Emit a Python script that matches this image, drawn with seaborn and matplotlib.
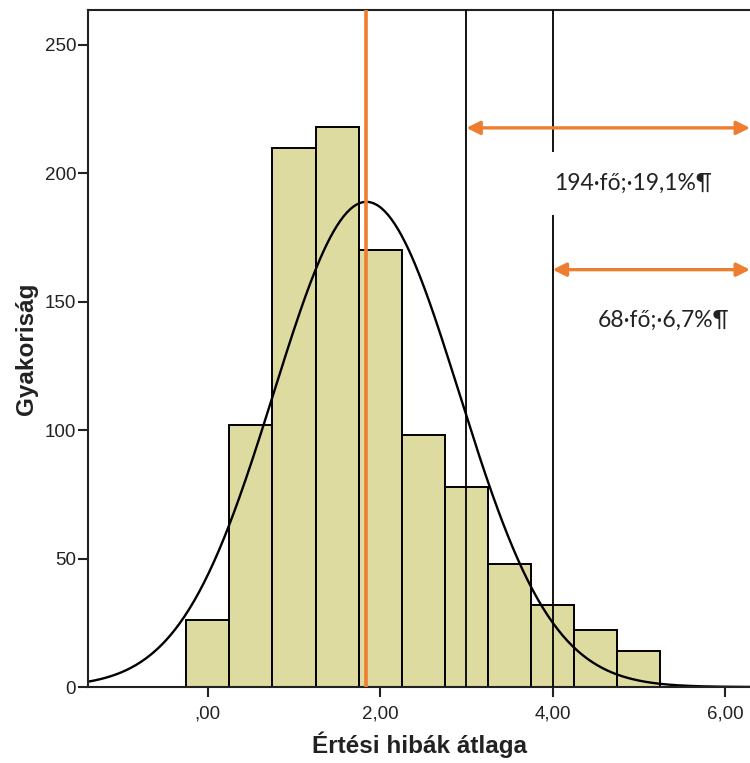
import numpy as np
import pandas as pd
import matplotlib
matplotlib.use("Agg")
import matplotlib.pyplot as plt
import seaborn as sns

# ---- data ----
bin_edges = [-0.25, 0.25, 0.75, 1.25, 1.75, 2.25, 2.75, 3.25, 3.75, 4.25, 4.75, 5.25]
counts = [26, 102, 210, 218, 170, 98, 78, 48, 32, 22, 14]
fit_mean = 1.84
fit_sd = 1.075
mean_line = 1.84
cut_lines = [3.0, 4.0]
arrow_starts = [3.0, 4.0]
arrow_levels = [217.7, 162.5]
annotations = ["194·fő;·19,1%¶", "68·fő;·6,7%¶"]
x_ticks = [0, 2, 4, 6]
x_ticklabels = [",00", "2,00", "4,00", "6,00"]
y_ticks = [0, 50, 100, 150, 200, 250]
x_label = "Értési hibák átlaga"
y_label = "Gyakoriság"

sns.set_theme(style="white")
plt.rcParams["font.family"] = ["Liberation Sans", "DejaVu Sans"]

fig = plt.figure(figsize=(7.5, 7.63), dpi=100)
ax = fig.add_axes([88 / 750, 1 - 687 / 763, 1 - 88 / 750, (687 - 10) / 763])

centers = [(a + b) / 2 for a, b in zip(bin_edges[:-1], bin_edges[1:])]
df = pd.DataFrame({"x": centers, "w": counts})
sns.histplot(data=df, x="x", weights="w", bins=bin_edges, ax=ax,
             color="#DEDBA0", edgecolor="black", linewidth=1.4, alpha=1.0)

# fitted normal curve
n_total = sum(counts)
bw = bin_edges[1] - bin_edges[0]
xs = np.linspace(-1.39, 6.29, 400)
ys = n_total * bw / (fit_sd * np.sqrt(2 * np.pi)) * np.exp(-0.5 * ((xs - fit_mean) / fit_sd) ** 2)
sns.lineplot(x=xs, y=ys, ax=ax, color="black", linewidth=1.7)

ax.set_xlim(-1.39, 6.29)
ax.set_ylim(0, 263.6)

for c in cut_lines:
    ax.axvline(c, color="black", linewidth=1.3, zorder=3)
ax.axvline(mean_line, color="#ED7D31", linewidth=2.6, zorder=4)

for xs0, yl in zip(arrow_starts, arrow_levels):
    ax.annotate("", xy=(6.29, yl), xytext=(xs0, yl),
                arrowprops=dict(arrowstyle="<|-|>", color="#ED7D31", lw=2.4,
                                mutation_scale=20, shrinkA=0, shrinkB=0),
                annotation_clip=False, zorder=5)

ax.text(4.02, 196.0, annotations[0], fontsize=16.5, family=["Lato", "DejaVu Sans"],
        color="#222222", ha="left", va="center", zorder=6,
        bbox=dict(facecolor="white", edgecolor="none", pad=15))
ax.text(4.52, 142.7, annotations[1], fontsize=16.5, family=["Lato", "DejaVu Sans"],
        color="#222222", ha="left", va="center", zorder=6)

ax.set_xticks(x_ticks)
ax.set_xticklabels(x_ticklabels)
ax.set_yticks(y_ticks)
ax.tick_params(axis="both", bottom=True, left=True, direction="out", length=7,
               width=1.5, color="#222222", labelsize=13.5, labelcolor="#222222")
ax.tick_params(axis="x", pad=6)
ax.tick_params(axis="y", pad=1.5)
ax.set_xlabel(x_label, fontsize=17.5, fontweight="bold", color="#222222", labelpad=7)
ax.set_ylabel(y_label, fontsize=17.5, fontweight="bold", color="#222222", labelpad=5)

for s in ["left", "top", "bottom"]:
    ax.spines[s].set_color("#222222")
    ax.spines[s].set_linewidth(1.5)
ax.spines["right"].set_visible(False)

fig.savefig("out.png", dpi=100)
